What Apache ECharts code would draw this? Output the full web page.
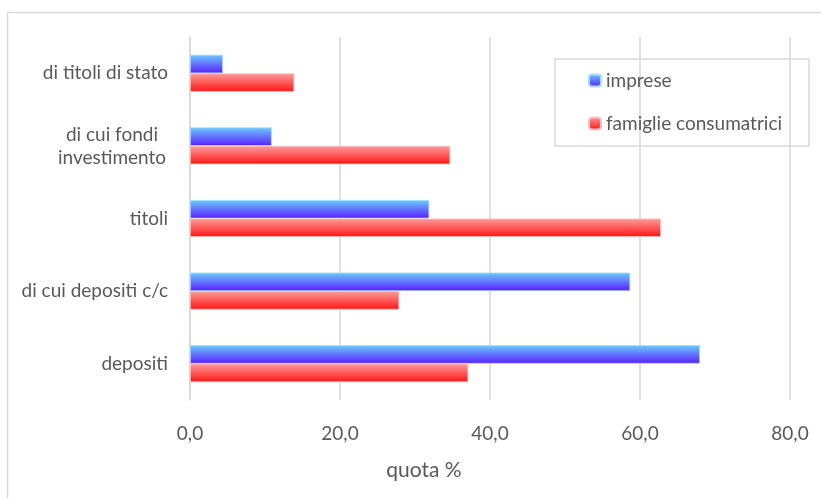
<!DOCTYPE html>
<html>
<head>
<meta charset="utf-8">
<script src="https://cdn.jsdelivr.net/npm/echarts@6/dist/echarts.min.js"></script>
<style>
  html, body { margin: 0; padding: 0; background: #fff; }
  #chart { width: 821px; height: 498px; }
</style>
</head>
<body>
<div id="chart"></div>
<script>
// Categories listed bottom-to-top (ECharts category axis grows upward)
const categories = ['depositi', 'di cui depositi c/c', 'titoli', 'di cui fondi\ninvestimento', 'di titoli di stato'];
const imprese = [68.0, 58.7, 31.9, 10.9, 4.4];
const famiglie = [37.1, 27.9, 62.8, 34.7, 13.9];
const xTicks = [0, 20, 40, 60, 80];

const FONT = 'Lato';
const FS = 19;
const TXT = '#595959';
const GRID = '#d9d9d9';

const blueGrad = new echarts.graphic.LinearGradient(0, 0, 0, 1, [
  { offset: 0, color: '#6ccbff' },
  { offset: 1, color: '#5a1cff' }
]);
const redGrad = new echarts.graphic.LinearGradient(0, 0, 0, 1, [
  { offset: 0, color: '#ff9c9c' },
  { offset: 1, color: '#ff1414' }
]);

const chart = echarts.init(document.getElementById('chart'), null, { renderer: 'canvas' });

chart.setOption({
  animation: false,
  textStyle: { fontFamily: FONT, color: TXT },
  title: {
    text: 'quota %',
    left: 419,
    top: 455,
    textAlign: 'center',
    textStyle: { fontFamily: FONT, fontSize: 21, fontWeight: 'normal', color: TXT }
  },
  graphic: [{
    type: 'rect',
    shape: { x: 7.5, y: 12.5, width: 830, height: 500 },
    style: { fill: 'none', stroke: GRID, lineWidth: 1.5 },
    silent: true
  }],
  legend: {
    orient: 'vertical',
    left: 555,
    top: 59,
    data: ['imprese', 'famiglie consumatrici'],
    itemWidth: 12,
    itemHeight: 12,
    itemGap: 24,
    padding: [12, 27, 13, 33],
    borderColor: GRID,
    borderWidth: 1.5,
    textStyle: { fontFamily: FONT, fontSize: FS, color: TXT }
  },
  grid: { left: 190, right: 31, top: 37, bottom: 98, containLabel: false },
  xAxis: {
    type: 'value',
    min: xTicks[0],
    max: xTicks[xTicks.length - 1],
    interval: 20,
    axisLine: { show: false },
    axisTick: { show: false },
    splitLine: { lineStyle: { color: GRID, width: 1.5 } },
    axisLabel: {
      margin: 24,
      fontFamily: FONT,
      fontSize: FS,
      color: TXT,
      formatter: v => v.toFixed(1).replace('.', ',')
    }
  },
  yAxis: {
    type: 'category',
    data: categories,
    axisLine: { show: true, lineStyle: { color: GRID, width: 1.5 } },
    axisTick: { show: false },
    axisLabel: {
      margin: 22,
      fontFamily: FONT,
      fontSize: FS,
      color: TXT,
      // wrapped labels are centred line by line, single ones stay right-aligned
      formatter: v => v.indexOf('\n') < 0 ? v : v.split('\n').map(s => '{c|' + s + '}').join('\n'),
      rich: {
        c: { fontFamily: FONT, fontSize: FS, color: TXT, width: 112, align: 'center', lineHeight: 23 }
      }
    }
  },
  series: [
    {
      name: 'imprese',
      type: 'bar',
      data: imprese,
      barGap: '0%',
      barCategoryGap: '49%',
      itemStyle: { color: blueGrad, borderColor: '#9fe0ff', borderWidth: 0.8 }
    },
    {
      name: 'famiglie consumatrici',
      type: 'bar',
      data: famiglie,
      barGap: '0%',
      barCategoryGap: '49%',
      itemStyle: { color: redGrad, borderColor: '#ffc0c0', borderWidth: 0.8 }
    }
  ]
});
</script>
</body>
</html>
